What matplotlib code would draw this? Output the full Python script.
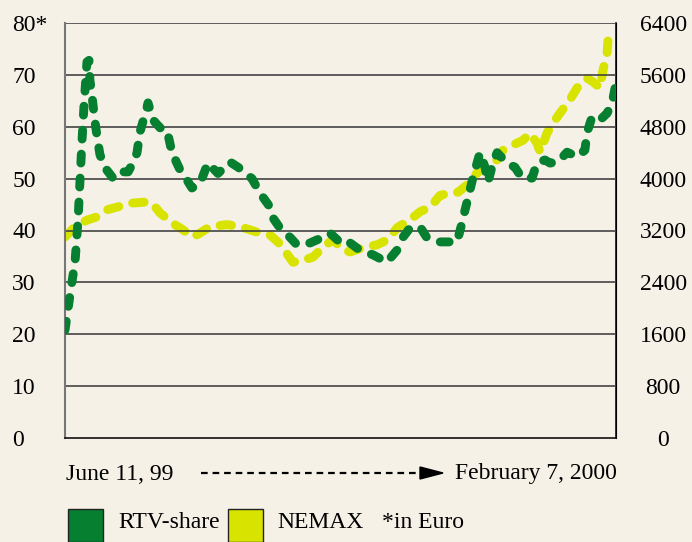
import numpy as np
import matplotlib.pyplot as plt
from matplotlib.lines import Line2D
from matplotlib.patches import Rectangle

# days since June 11, 99 and RTV share price (Euro)
rtv_days = [0, 2.2, 4.4, 5.7, 6.6, 7.4, 8.3, 9.6, 10.5, 10.9, 11.8, 13.1, 14.4, 15.3, 17.5, 21.0,
            23.2, 27.6, 29.7, 31.5, 32.8, 35.9, 36.3, 38.5, 41.6, 44.6, 46.8, 50.3, 53.4, 55.5,
            59.0, 62.5, 66.9, 72.2, 75.7, 81.8, 85.3, 89.7, 91.0, 94.0, 98.4, 101.5, 107.2,
            112.8, 115.9, 121.6, 124.7, 129.0, 134.7, 140.8, 145.2, 147.8, 150.9, 155.3, 158.3,
            164.0, 171.5, 173.6, 175.0, 176.3, 178.5, 181.5, 183.7, 185.0, 187.2, 189.0, 193.3,
            196.8, 199.9, 204.3, 206.4, 209.9, 212.1, 215.6, 219.6, 224.0, 227.4, 228.3, 230.5,
            234.0, 237.1, 239.3, 240.6]
rtv = [20.8, 27.6, 34.0, 42.0, 50.0, 57.0, 64.0, 72.5, 72.8, 69.0, 66.0, 61.0, 57.0, 54.6, 52.1,
       50.1, 51.3, 51.3, 53.0, 55.0, 59.0, 63.8, 64.6, 61.3, 59.8, 59.4, 55.0, 51.7, 49.7, 48.2,
       49.0, 53.0, 51.0, 53.2, 52.2, 50.0, 47.2, 44.5, 42.4, 40.5, 38.7, 37.2, 37.6, 38.7, 39.5,
       37.2, 37.6, 36.2, 35.3, 33.9, 36.2, 38.7, 40.5, 40.7, 38.6, 37.8, 37.8, 41.4, 44.0, 46.3,
       50.3, 55.0, 52.2, 49.3, 53.0, 55.0, 53.0, 52.2, 50.1, 50.1, 53.0, 53.6, 53.0, 53.2, 55.1,
       54.2, 55.5, 58.8, 61.9, 61.3, 62.6, 64.6, 67.5]

# NEMAX index points
nemax_days = [0, 4.4, 9.6, 14.0, 18.4, 22.7, 28.4, 35.9, 38.1, 41.6, 47.2, 51.6, 56.0, 59.0,
              63.4, 70.9, 76.5, 80.9, 85.3, 89.7, 93.2, 95.3, 99.7, 104.1, 108.5, 112.8, 117.2,
              121.6, 124.7, 129.9, 136.5, 141.3, 145.2, 151.8, 155.3, 159.7, 164.0, 168.4, 171.9,
              177.2, 180.2, 184.6, 189.0, 191.6, 196.0, 200.3, 203.4, 206.4, 207.8, 210.8, 213.5,
              216.5, 220.9, 224.0, 228.3, 231.0, 234.0, 235.3, 237.1, 237.5, 239.7]
nemax = [3100, 3260, 3360, 3410, 3520, 3560, 3620, 3640, 3620, 3470, 3310, 3210, 3100, 3160,
         3260, 3290, 3260, 3210, 3160, 3130, 3020, 2930, 2710, 2740, 2790, 2940, 3060, 2900,
         2870, 2930, 2980, 3060, 3240, 3390, 3490, 3560, 3740, 3780, 3790, 3940, 4090, 4180,
         4290, 4440, 4520, 4590, 4700, 4550, 4410, 4700, 4860, 5010, 5220, 5400, 5550, 5490,
         5400, 5670, 5940, 6140, 6260]

left_ticks = [0, 10, 20, 30, 40, 50, 60, 70, 80]
left_labels = ['0', '10', '20', '30', '40', '50', '60', '70', '80*']
right_ticks = [0, 800, 1600, 2400, 3200, 4000, 4800, 5600, 6400]

bg = '#F5F1E6'
green = '#067F30'
yellow = '#D8E300'
plt.rcParams['font.family'] = ['Liberation Serif', 'DejaVu Serif']

fig = plt.figure(figsize=(6.92, 5.42), dpi=100, facecolor=bg)
ax = fig.add_axes([65 / 692, 104 / 542, 551 / 692, 415 / 542])
ax.set_facecolor(bg)
ax2 = ax.twinx()

for y in left_ticks[1:]:
    ax.axhline(y, color='#444444', lw=1.2, zorder=1)

ax.plot(rtv_days, rtv, color=green, lw=6.4, dashes=(1.0, 1.7), dash_capstyle='round',
        solid_capstyle='round', zorder=3)
ax2.plot(nemax_days, nemax, color=yellow, lw=6.4, dashes=(1.3, 1.6), dash_capstyle='round',
         zorder=2)

ax.set_xlim(0, 241)
ax.set_ylim(0, 80)
ax2.set_ylim(0, 6400)
ax.set_xticks([])
ax.set_yticks(left_ticks)
ax.set_yticklabels(left_labels, ha='left', fontsize=17)
ax.tick_params(axis='y', length=0, pad=38)
ax2.set_yticks(right_ticks)
ax2.set_yticklabels([str(t) for t in right_ticks], ha='center', fontsize=17)
ax2.tick_params(axis='y', length=0, pad=34)

for a in (ax, ax2):
    a.spines['top'].set_visible(False)
ax.spines['left'].set_color('#777777')
ax.spines['left'].set_linewidth(1.5)
ax2.spines['right'].set_color('#111111')
ax2.spines['right'].set_linewidth(1.2)
ax.spines['bottom'].set_color('#111111')
ax.spines['bottom'].set_linewidth(1.2)
ax2.spines['left'].set_visible(False)
ax2.spines['bottom'].set_visible(False)
ax2.set_zorder(ax.get_zorder() - 1)
ax.patch.set_visible(False)
ax2.patch.set_visible(True)
ax2.patch.set_facecolor(bg)

# date range with arrow
W, H = 692, 542
fig.text(66 / W, 1 - 474 / H, 'June 11, 99', fontsize=17, va='center', ha='left')
fig.text(455 / W, 1 - 474 / H, 'February 7, 2000', fontsize=17, va='center', ha='left')
fig.add_artist(Line2D([201 / W, 424 / W], [1 - 473 / H, 1 - 473 / H], color='black',
                      lw=1.6, dashes=(3, 2.2)))
fig.add_artist(plt.Polygon([[420 / W, 1 - 467 / H], [443 / W, 1 - 473 / H], [420 / W, 1 - 479 / H]],
                           closed=True, color='black'))

# legend
fig.add_artist(Rectangle((68 / W, 0), 35 / W, 33 / H, facecolor=green, edgecolor='#222222', lw=1))
fig.text(118 / W, 1 - 523 / H, 'RTV-share', fontsize=17, va='center', ha='left')
fig.add_artist(Rectangle((228 / W, 0), 35 / W, 33 / H, facecolor=yellow, edgecolor='#222222', lw=1))
fig.text(277 / W, 1 - 523 / H, 'NEMAX', fontsize=17, va='center', ha='left')
fig.text(382 / W, 1 - 523 / H, '*in Euro', fontsize=17, va='center', ha='left')

fig.savefig('out.png', dpi=100, facecolor=bg)
